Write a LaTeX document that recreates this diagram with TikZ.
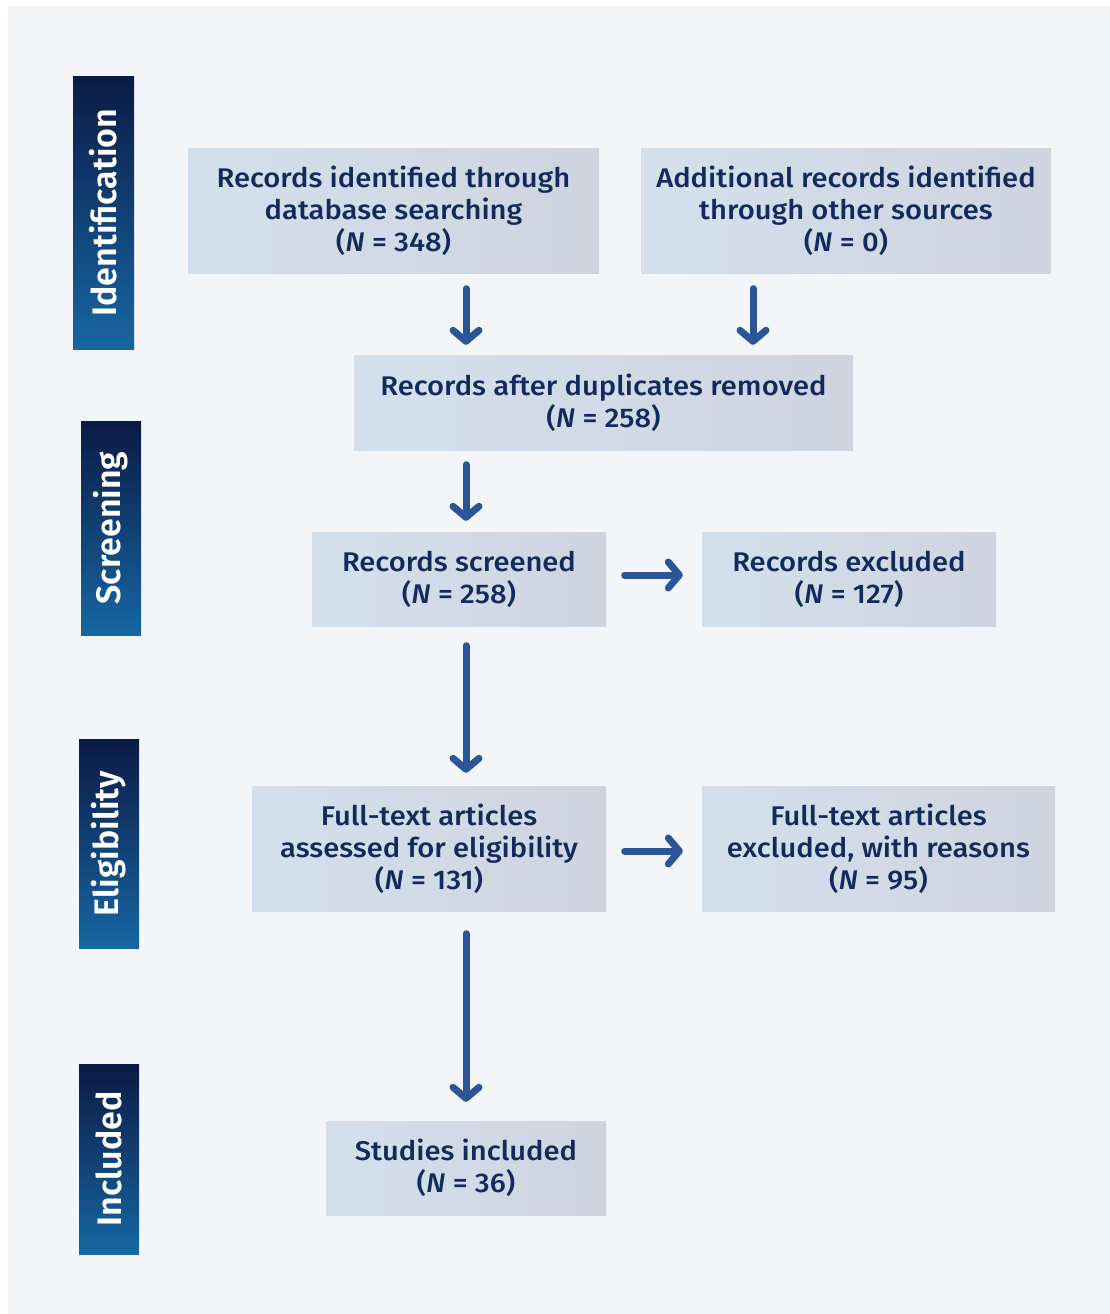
\documentclass[tikz,border=0pt]{standalone}
\usepackage{fontspec}
\setmainfont{Fira Sans Medium}[FakeStretch=1.08]
\newfontfamily\sidefont{Fira Sans SemiBold}
\usetikzlibrary{arrows.meta}
\definecolor{panel}{RGB}{243,245,249}
\definecolor{boxL}{RGB}{211,224,236}
\definecolor{boxR}{RGB}{207,212,223}
\definecolor{txt}{RGB}{20,42,90}
\definecolor{arrowc}{RGB}{43,85,151}
\definecolor{barT}{RGB}{11,26,69}
\definecolor{barB}{RGB}{23,103,163}
\begin{document}
\begin{tikzpicture}[x=1pt,y=-1pt,
  box/.style={rectangle, left color=boxL, right color=boxR, align=center, text=txt,
    font=\fontsize{27}{32}\selectfont, inner sep=0pt},
  flow/.style={draw=arrowc, line width=7pt, line cap=round,
    -{Straight Barb[length=11pt,width=26pt,round]}},
  sidebar/.style={top color=barT, bottom color=barB},
  sidelabel/.style={text=white, font=\sidefont\fontsize{34}{40}\selectfont, rotate=90, inner sep=0pt}]
\useasboundingbox (0,0) rectangle (1110,1314);
\fill[white] (0,0) rectangle (1110,1314);
\fill[panel] (8,6) rectangle (1110,1314);
% side bars
\shade[sidebar] (73,76) rectangle (134,349);
\node[sidelabel] (lid) at (103.5,212.5) {Identification};
\shade[sidebar] (81,421) rectangle (141,635);
\node[sidelabel] (lsc) at (111,528) {Screening};
\shade[sidebar] (79,739) rectangle (139,948);
\node[sidelabel] (lel) at (109,843.5) {Eligibility};
\shade[sidebar] (79,1064) rectangle (139,1254);
\node[sidelabel] (lin) at (109,1159) {Included};
% boxes
\node[box, minimum width=411pt, minimum height=125pt] (b1) at (393.5,210.5)
  {Records identified through\\database searching\\(\textit{N} = 348)};
\node[box, minimum width=410pt, minimum height=125pt] (b2) at (846,210.5)
  {Additional records identified\\through other sources\\(\textit{N} = 0)};
\node[box, minimum width=499pt, minimum height=95pt] (b3) at (603.5,402.5)
  {Records after duplicates removed\\(\textit{N} = 258)};
\node[box, minimum width=294pt, minimum height=94pt] (b4) at (459,579)
  {Records screened\\(\textit{N} = 258)};
\node[box, minimum width=294pt, minimum height=94pt] (b5) at (849,579)
  {Records excluded\\(\textit{N} = 127)};
\node[box, minimum width=354pt, minimum height=125pt] (b6) at (429,848.5)
  {Full-text articles\\assessed for eligibility\\(\textit{N} = 131)};
\node[box, minimum width=353pt, minimum height=125pt] (b7) at (878.5,848.5)
  {Full-text articles\\excluded, with reasons\\(\textit{N} = 95)};
\node[box, minimum width=280pt, minimum height=94pt] (b8) at (466,1168)
  {Studies included\\(\textit{N} = 36)};
% arrows
\coordinate (cx) at (466,0);
\coordinate (rx) at (753,0);
\coordinate (hy1) at (0,575);
\coordinate (hy2) at (0,851);
\draw[flow, shorten <=15.5pt, shorten >=10pt] (b1.south -| cx) -- (b3.north -| cx);
\draw[flow, shorten <=15.5pt, shorten >=10pt] (b2.south -| rx) -- (b3.north -| rx);
\draw[flow, shorten <=14.5pt, shorten >=11pt] (b3.south -| cx) -- (b4.north -| cx);
\draw[flow, shorten <=18.5pt, shorten >=19pt] (b4.east |- hy1) -- (b5.west |- hy1);
\draw[flow, shorten <=19.5pt, shorten >=13pt] (b4.south -| cx) -- (b6.north -| cx);
\draw[flow, shorten <=18.5pt, shorten >=19pt] (b6.east |- hy2) -- (b7.west |- hy2);
\draw[flow, shorten <=22.5pt, shorten >=19pt] (b6.south -| cx) -- (b8.north -| cx);
\end{tikzpicture}
\end{document}
